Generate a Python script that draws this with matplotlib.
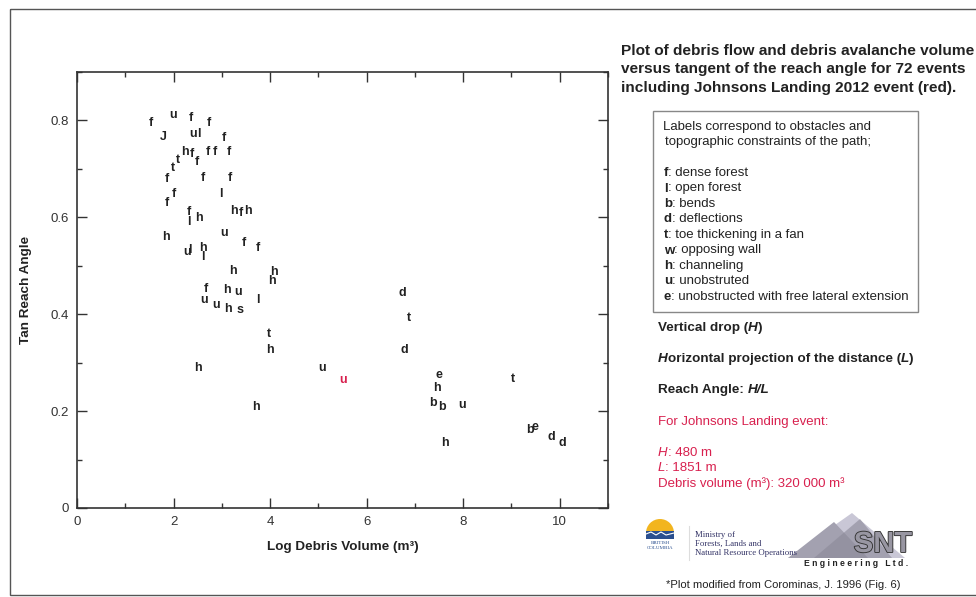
import matplotlib.pyplot as plt
import matplotlib.patheffects as pe
from matplotlib.patches import Rectangle, Polygon, Wedge
from matplotlib.ticker import MultipleLocator

plt.rcParams['font.family'] = ['Liberation Sans', 'DejaVu Sans']

# path-type letter, log10 debris volume, tan of reach angle
marks = ["f", "u", "f", "f", "J", "u", "l", "f", "h", "f", "f", "f", "f", "f",
         "t", "t", "f", "f", "f", "f", "f", "l", "f", "l", "h", "h", "f", "h",
         "h", "u", "f", "f", "u", "l", "h", "l", "h", "h", "h", "f", "u", "h",
         "u", "u", "h", "s", "l", "t", "h", "h", "u", "h", "d", "t", "d", "e",
         "h", "b", "b", "u", "t", "b", "e", "d", "d", "h"]
log_vol = [1.53, 1.99, 2.36, 2.73, 1.78, 2.40, 2.53, 3.04, 2.24, 2.38, 2.48, 2.71,
           2.86, 3.15, 2.09, 1.99, 1.86, 2.61, 3.17, 2.01, 1.86, 2.98, 2.32, 2.32,
           2.53, 3.25, 3.40, 3.54, 1.84, 3.04, 3.46, 3.75, 2.28, 2.34, 2.61, 2.61,
           3.23, 4.08, 4.04, 2.67, 2.63, 3.11, 3.33, 2.88, 3.13, 3.37, 3.75, 3.98,
           4.00, 2.51, 5.07, 3.71, 6.73, 6.87, 6.79, 7.49, 7.45, 7.37, 7.56, 7.97,
           9.03, 9.38, 9.48, 9.83, 10.06, 7.62]
tan_reach = [0.794, 0.812, 0.806, 0.794, 0.765, 0.773, 0.773, 0.763, 0.734, 0.730,
             0.715, 0.734, 0.734, 0.734, 0.718, 0.701, 0.680, 0.682, 0.682, 0.649,
             0.629, 0.649, 0.610, 0.590, 0.598, 0.614, 0.608, 0.614, 0.559, 0.567,
             0.546, 0.536, 0.528, 0.532, 0.536, 0.518, 0.489, 0.487, 0.468, 0.452,
             0.429, 0.449, 0.445, 0.419, 0.410, 0.408, 0.429, 0.359, 0.326, 0.289,
             0.289, 0.208, 0.443, 0.392, 0.326, 0.274, 0.247, 0.216, 0.208, 0.212,
             0.266, 0.161, 0.167, 0.146, 0.134, 0.134]

# Johnsons Landing 2012
jl_mark = ["u"]
jl_log_vol = [5.51]
jl_tan = [0.264]

legend_rows = [("f", ": dense forest"), ("l", ": open forest"), ("b", ": bends"),
               ("d", ": deflections"), ("t", ": toe thickening in a fan"),
               ("w", ": opposing wall"), ("h", ": channeling"),
               ("u", ": unobstruted"), ("e", ": unobstructed with free lateral extension")]

red = "#d8204e"
ink = "#222222"

fig = plt.figure(figsize=(9.76, 5.97), dpi=100)
ax = fig.add_axes([77 / 976, 1 - 508 / 597, (608 - 77) / 976, (508 - 72) / 597])

for m, x, y in zip(marks, log_vol, tan_reach):
    ax.text(x, y, m, ha="center", va="center", fontsize=9, fontweight="bold", color=ink)
for m, x, y in zip(jl_mark, jl_log_vol, jl_tan):
    ax.text(x, y, m, ha="center", va="center", fontsize=9, fontweight="bold", color=red)

ax.set_xlim(0, 11)
ax.set_ylim(0, 0.9)
ax.xaxis.set_minor_locator(MultipleLocator(1))
ax.yaxis.set_minor_locator(MultipleLocator(0.1))
ax.set_xticks([0, 2, 4, 6, 8, 10])
ax.set_xticklabels(["0", "2", "4", "6", "8", "10"])
ax.set_yticks([0, 0.2, 0.4, 0.6, 0.8])
ax.set_yticklabels(["0", "0.2", "0.4", "0.6", "0.8"])
ax.tick_params(which="both", direction="in", top=True, right=True, colors="#333333",
               labelsize=9.5, width=1)
ax.tick_params(which="major", length=7, pad=6)
ax.tick_params(which="minor", length=3.5)
for s in ax.spines.values():
    s.set_color("#333333")
    s.set_linewidth(1.2)
ax.set_xlabel("Log Debris Volume (m³)", fontsize=9.7, fontweight="bold", color=ink, labelpad=9)
ax.set_ylabel("Tan Reach Angle", fontsize=9.7, fontweight="bold", color=ink, labelpad=13)

# side panel drawn in pixel coordinates
ov = fig.add_axes([0, 0, 1, 1], facecolor="none")
ov.set_xlim(0, 976)
ov.set_ylim(597, 0)
ov.axis("off")
renderer = fig.canvas.get_renderer()


def line_of_runs(x, y, parts, size, color):
    for s, kw in parts:
        t = ov.text(x, y, s, fontsize=size, color=color, va="center", ha="left", **kw)
        x += t.get_window_extent(renderer).width


ov.add_patch(Rectangle((10, 9), 980, 586, fill=False, lw=1, ec="#555555"))

title = ["Plot of debris flow and debris avalanche volume",
         "versus tangent of the reach angle for 72 events",
         "including Johnsons Landing 2012 event (red)."]
for i, line in enumerate(title):
    ov.text(621, 51 + 18.5 * i, line, fontsize=11.1, fontweight="bold", color=ink, va="center")

ov.add_patch(Rectangle((653, 111), 265, 201, fill=False, lw=1, ec="#888888"))
ov.text(663, 127, "Labels correspond to obstacles and", fontsize=9.5, color=ink, va="center")
ov.text(665, 142, "topographic constraints of the path;", fontsize=9.5, color=ink, va="center")
for i, (k, desc) in enumerate(legend_rows):
    line_of_runs(664, 173 + 15.5 * i, [(k, {"fontweight": "bold"}), (desc, {})], 9.5, ink)

b = {"fontweight": "bold"}
bi = {"fontweight": "bold", "fontstyle": "italic"}
line_of_runs(658, 328, [("Vertical drop (", b), ("H", bi), (")", b)], 9.7, ink)
line_of_runs(658, 359, [("H", bi), ("orizontal projection of the distance (", b),
                        ("L", bi), (")", b)], 9.7, ink)
line_of_runs(658, 390, [("Reach Angle: ", b), ("H/L", bi)], 9.7, ink)
ov.text(658, 422, "For Johnsons Landing event:", fontsize=9.5, color=red, va="center")
it = {"fontstyle": "italic"}
line_of_runs(658, 453, [("H", it), (": 480 m", {})], 9.5, red)
line_of_runs(658, 468, [("L", it), (": 1851 m", {})], 9.5, red)
ov.text(658, 484, "Debris volume (m³): 320 000 m³", fontsize=9.5, color=red, va="center")

# BC government logo (y axis points down here, so the sun uses 180-360)
ov.add_patch(Wedge((660, 533), 14, 180, 360, fc="#f2b51f", ec="none"))
ov.add_patch(Rectangle((646, 531), 28, 8, fc="#2a4f8f", ec="none"))
ov.plot([646, 651, 656, 661, 666, 674], [534, 532, 535, 532, 535, 533], color="white", lw=0.8)
ov.text(660, 543, "BRITISH", fontsize=3.6, color="#2a4f8f", ha="center", va="center",
        family="Liberation Serif")
ov.text(660, 548, "COLUMBIA", fontsize=3.6, color="#2a4f8f", ha="center", va="center",
        family="Liberation Serif")
ov.plot([689, 689], [526, 560], color="#dddddd", lw=0.8)
for i, s in enumerate(["Ministry of", "Forests, Lands and", "Natural Resource Operations"]):
    ov.text(695, 535 + 9 * i, s, fontsize=6.3, color="#333366", va="center",
            family="Liberation Serif")

# SNT Engineering logo
ov.add_patch(Polygon([(788, 558), (852, 513), (905, 558)], fc="#c9c7d6", ec="none"))
ov.add_patch(Polygon([(788, 558), (834, 522), (868, 558)], fc="#a3a1b0", ec="none"))
ov.add_patch(Polygon([(814, 558), (860, 519), (892, 558)], fc="#8b8998", ec="none", alpha=0.6))
ov.text(883, 544, "SNT", fontsize=21, fontweight="bold", color="#9896a2", ha="center",
        va="center", path_effects=[pe.withStroke(linewidth=1.3, foreground="#333333")])
ov.text(856, 564, "E n g i n e e r i n g   L t d .", fontsize=6.2, fontweight="bold",
        color="#222222", ha="center", va="center")

ov.text(783, 585, "*Plot modified from Corominas, J. 1996 (Fig. 6)", fontsize=8.1,
        color=ink, ha="center", va="center")

fig.savefig("out.png", dpi=100)
